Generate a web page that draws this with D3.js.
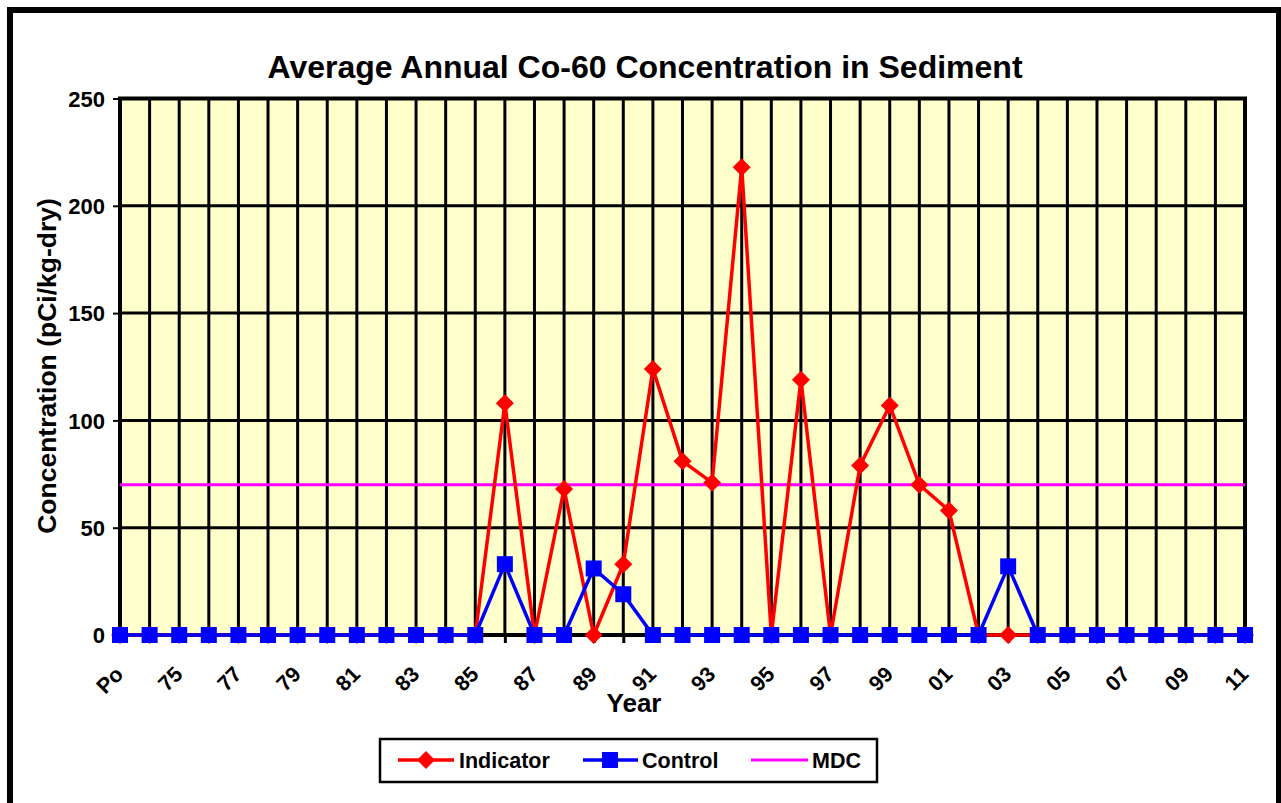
<!DOCTYPE html>
<meta charset="utf-8">
<script src="https://d3js.org/d3.v7.min.js"></script>
<style>
body { margin: 0; background: #fff; }
svg text { font-family: "Liberation Sans", Arial, sans-serif; font-weight: bold; fill: #000; }
</style>
<div id="chart"></div>
<script>
// categories along the x axis (Po = pre-operational)
var years = ["Po","74","75","76","77","78","79","80","81","82","83","84","85","86","87","88","89",
             "90","91","92","93","94","95","96","97","98","99","00","01","02","03","04","05","06",
             "07","08","09","10","11"];
var indicator = [0,0,0,0,0,0,0,0,0,0,0,0,0,108,0,68,0,33,124,81,71,218,0,119,0,79,107,70,58,0,0,
                 0,0,0,0,0,0,0,0];
var control = [0,0,0,0,0,0,0,0,0,0,0,0,0,33,0,0,31,19,0,0,0,0,0,0,0,0,0,0,0,0,32,
               0,0,0,0,0,0,0,0];
var mdc = years.map(function() { return 70; });
var yTicks = [0,50,100,150,200,250];

var W = 1281, H = 803;
var pLeft = 120, pRight = 1245, pTop = 98.5, pBottom = 635;

var svg = d3.select("#chart").append("svg").attr("width",W).attr("height",H);
svg.append("rect").attr("width",W).attr("height",H).attr("fill","#fff");

// outer frame
svg.append("rect").attr("x",10).attr("y",10).attr("width",1269).attr("height",820)
  .attr("fill","none").attr("stroke","#000").attr("stroke-width",6);

var x = d3.scalePoint().domain(years).range([pLeft,pRight]);
var y = d3.scaleLinear().domain([0,250]).range([pBottom,pTop]);

// plot area
svg.append("rect").attr("x",pLeft).attr("y",pTop).attr("width",pRight-pLeft).attr("height",pBottom-pTop)
  .attr("fill","#ffffcc");

// grid
svg.append("g").selectAll("line").data(years).enter().append("line")
  .attr("x1",function(d) { return x(d); }).attr("x2",function(d) { return x(d); })
  .attr("y1",pTop).attr("y2",pBottom).attr("stroke","#000").attr("stroke-width",3);
svg.append("g").selectAll("line").data(yTicks.slice(1)).enter().append("line")
  .attr("x1",pLeft).attr("x2",pRight)
  .attr("y1",function(d) { return y(d); }).attr("y2",function(d) { return y(d); })
  .attr("stroke","#000").attr("stroke-width",3);
svg.append("rect").attr("x",pLeft).attr("y",pTop).attr("width",pRight-pLeft).attr("height",pBottom-pTop)
  .attr("fill","none").attr("stroke","#000").attr("stroke-width",4);

// axes
var yAxis = svg.append("g").attr("transform","translate(" + pLeft + ",0)")
  .call(d3.axisLeft(y).tickValues(yTicks).tickSize(7).tickPadding(8));
yAxis.select(".domain").remove();
yAxis.selectAll("line").attr("stroke-width",2);
yAxis.selectAll("text").style("font-size","22px").attr("dy","0.35em");

var xAxis = svg.append("g").attr("transform","translate(0," + pBottom + ")")
  .call(d3.axisBottom(x).tickSize(8).tickFormat(""));
xAxis.select(".domain").remove();
xAxis.selectAll("line").attr("stroke-width",3);

svg.append("g").selectAll("text").data(years.filter(function(d,i) { return i % 2 == 0; })).enter()
  .append("text")
  .attr("transform",function(d) { return "translate(" + (x(d) - 6) + ",665) rotate(-45)"; })
  .attr("text-anchor","end").attr("dy","0.7em")
  .style("font-size","21.5px").text(function(d) { return d; });

// series
var line = d3.line().x(function(d,i) { return x(years[i]); }).y(function(d) { return y(d); });

svg.append("path").datum(mdc).attr("d",line).attr("fill","none")
  .attr("stroke","#ff00ff").attr("stroke-width",3);

svg.append("path").datum(indicator).attr("d",line).attr("fill","none")
  .attr("stroke","#ff0000").attr("stroke-width",3.5);
svg.append("g").selectAll("path").data(indicator).enter().append("path")
  .attr("d","M0,-9L9,0L0,9L-9,0Z").attr("fill","#ff0000")
  .attr("transform",function(d,i) { return "translate(" + x(years[i]) + "," + y(d) + ")"; });

svg.append("path").datum(control).attr("d",line).attr("fill","none")
  .attr("stroke","#0000ff").attr("stroke-width",3.5);
svg.append("g").selectAll("rect").data(control).enter().append("rect")
  .attr("x",function(d,i) { return x(years[i]) - 8; })
  .attr("y",function(d) { return y(d) - 8; })
  .attr("width",16).attr("height",16).attr("fill","#0000ff");

// titles
svg.append("text").attr("x",645).attr("y",78).attr("text-anchor","middle")
  .style("font-size","32px").text("Average Annual Co-60 Concentration in Sediment");
svg.append("text").attr("x",634).attr("y",712).attr("text-anchor","middle")
  .style("font-size","26px").text("Year");
svg.append("text").attr("transform","translate(47,366) rotate(-90)").attr("text-anchor","middle")
  .attr("dy","0.35em").style("font-size","26.5px").text("Concentration (pCi/kg-dry)");

// legend
var lg = svg.append("g");
lg.append("rect").attr("x",380).attr("y",739).attr("width",497).attr("height",43)
  .attr("fill","#fff").attr("stroke","#000").attr("stroke-width",2.5);
var ly = 760;
lg.append("line").attr("x1",398).attr("x2",454).attr("y1",ly).attr("y2",ly)
  .attr("stroke","#ff0000").attr("stroke-width",3.5);
lg.append("path").attr("d","M0,-9L9,0L0,9L-9,0Z").attr("fill","#ff0000")
  .attr("transform","translate(426," + ly + ")");
lg.append("text").attr("x",459).attr("y",ly).attr("dy","0.35em").style("font-size","21.5px").text("Indicator");
lg.append("line").attr("x1",583).attr("x2",638).attr("y1",ly).attr("y2",ly)
  .attr("stroke","#0000ff").attr("stroke-width",3.5);
lg.append("rect").attr("x",602).attr("y",ly-8).attr("width",16).attr("height",16).attr("fill","#0000ff");
lg.append("text").attr("x",642).attr("y",ly).attr("dy","0.35em").style("font-size","21.5px").text("Control");
lg.append("line").attr("x1",751).attr("x2",808).attr("y1",ly).attr("y2",ly)
  .attr("stroke","#ff00ff").attr("stroke-width",3);
lg.append("text").attr("x",812).attr("y",ly).attr("dy","0.35em").style("font-size","21.5px").text("MDC");
</script>
